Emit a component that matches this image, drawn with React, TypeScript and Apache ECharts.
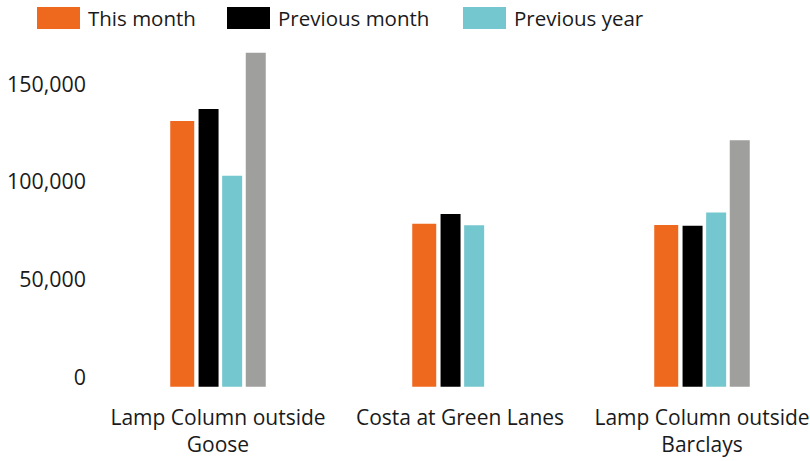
import React, { useEffect, useRef } from "react";
import * as echarts from "echarts";

const categories = ["Lamp Column outside Goose", "Costa at Green Lanes", "Lamp Column outside Barclays"];
const thisMonth = [136000, 83400, 82700];
const previousMonth = [142100, 88400, 82400];
const previousYear = [108000, 82600, 89200];
const other = [170900, null, 126100];
const yTicks = [0, 50000, 100000, 150000];

const FONT = "Open Sans";

function wrap(label: string, maxChars: number): string {
  const words = label.split(" ");
  const lines: string[] = [];
  let cur = "";
  for (const w of words) {
    const next = cur ? cur + " " + w : w;
    if (next.length > maxChars && cur) {
      lines.push(cur);
      cur = w;
    } else {
      cur = next;
    }
  }
  if (cur) lines.push(cur);
  return lines.join("\n");
}

export default function App() {
  const ref = useRef<HTMLDivElement>(null);
  useEffect(() => {
    const chart = echarts.init(ref.current!, undefined, { renderer: "svg" });
    const legendBase = {
      top: 7,
      padding: 0,
      itemWidth: 43,
      itemHeight: 22,
      itemGap: 10,
      textStyle: { fontSize: 20.5, color: "#1a1a1a", fontFamily: FONT, padding: [0, 0, 0, 3] },
      icon: "rect",
    };
    chart.setOption({
      animation: false,
      textStyle: { fontFamily: FONT },
      legend: [
        { ...legendBase, left: 37, data: ["This month"] },
        { ...legendBase, left: 227, data: ["Previous month"] },
        { ...legendBase, left: 463, data: ["Previous year"] },
      ],
      grid: { left: 97, top: 44.7, width: 726, height: 342, containLabel: false, outerBoundsMode: "none" },
      xAxis: {
        type: "category",
        data: categories,
        axisLine: { show: false },
        axisTick: { show: false },
        axisLabel: {
          interval: 0,
          fontSize: 21,
          color: "#1a1a1a",
          fontFamily: FONT,
          margin: 17,
          lineHeight: 27,
          formatter: (v: string) => wrap(v, 20),
        },
      },
      yAxis: {
        type: "value",
        min: 0,
        max: 175000,
        interval: 50000,
        splitLine: { show: false },
        axisLine: { show: false },
        axisTick: { show: false },
        axisLabel: {
          showMaxLabel: false,
          fontSize: 21.4,
          color: "#1a1a1a",
          fontFamily: FONT,
          margin: 11,
          verticalAlign: "bottom",
          formatter: (v: number) => (yTicks.includes(v) ? v.toLocaleString("en-US") : ""),
        },
      },
      series: [
        { name: "This month", type: "bar", data: thisMonth, barWidth: 24, barGap: "18%", itemStyle: { color: "#EE681E" } },
        { name: "Previous month", type: "bar", data: previousMonth, barWidth: 20, barGap: "18%", itemStyle: { color: "#000000" } },
        { name: "Previous year", type: "bar", data: previousYear, barWidth: 20, barGap: "18%", itemStyle: { color: "#74C7CE" } },
        { name: "Other", type: "bar", data: other, barWidth: 20, barGap: "18%", itemStyle: { color: "#9F9F9E" } },
      ],
    });
    return () => chart.dispose();
  }, []);
  return <div ref={ref} style={{ width: 810, height: 461, position: "absolute", left: 0, top: 0 }} />;
}
